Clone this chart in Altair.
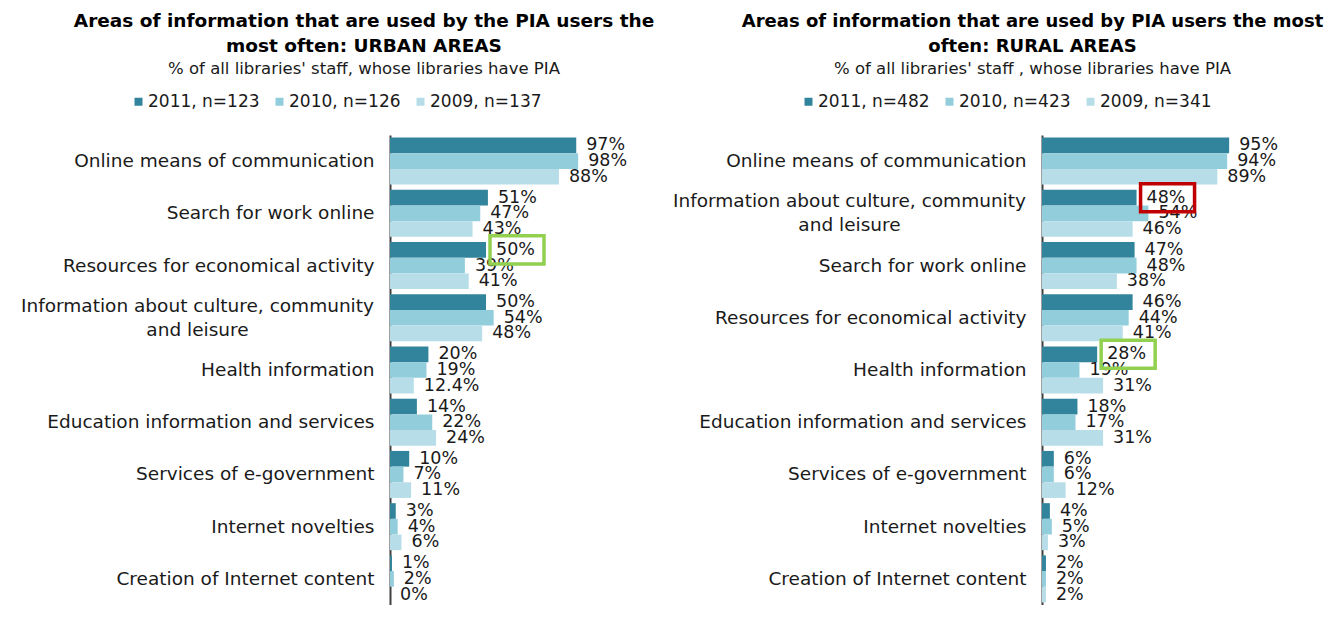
import altair as alt
import pandas as pd

# ---------------- data ----------------
categories_urban = [
    "Online means of communication",
    "Search for work online",
    "Resources for economical activity",
    "Information about culture, community\nand leisure",
    "Health information",
    "Education information and services",
    "Services of e-government",
    "Internet novelties",
    "Creation of Internet content",
]
urban_2011 = [97, 51, 50, 50, 20, 14, 10, 3, 1]
urban_2010 = [98, 47, 39, 54, 19, 22, 7, 4, 2]
urban_2009 = [88, 43, 41, 48, 12.4, 24, 11, 6, 0]
series_urban = ["2011, n=123", "2010, n=126", "2009, n=137"]

categories_rural = [
    "Online means of communication",
    "Information about culture, community\nand leisure",
    "Search for work online",
    "Resources for economical activity",
    "Health information",
    "Education information and services",
    "Services of e-government",
    "Internet novelties",
    "Creation of Internet content",
]
rural_2011 = [95, 48, 47, 46, 28, 18, 6, 4, 2]
rural_2010 = [94, 54, 48, 44, 19, 17, 6, 5, 2]
rural_2009 = [89, 46, 38, 41, 31, 31, 12, 3, 2]
series_rural = ["2011, n=482", "2010, n=423", "2009, n=341"]

# highlighted labels: (category, series index, kind)
highlights_urban = [("Resources for economical activity", 0, "green")]
highlights_rural = [
    ("Information about culture, community\nand leisure", 0, "red"),
    ("Health information", 0, "green"),
]

title_urban = ["Areas of information that are used by the PIA users the", "most often: URBAN AREAS"]
title_rural = ["Areas of information that are used by PIA users the most", "often: RURAL AREAS"]
subtitle_urban = "% of all libraries' staff, whose libraries have PIA"
subtitle_rural = "% of all libraries' staff , whose libraries have PIA"

BAR_COLORS = ["#31849B", "#92CDDC", "#B7DEE8"]
FONT = "DejaVu Sans"
MULTI = "indexof(datum.value, '\\n') >= 0"


def fmt(v):
    return f"{v:g}%"


def panel(categories, series_values, series, highlights, width, title, subtitle, title_dx, title_size, legend_x):
    rows = []
    for s_name, vals in zip(series, series_values):
        for c, v in zip(categories, vals):
            rows.append({"category": c, "series": s_name, "value": v, "label": fmt(v)})
    df = pd.DataFrame(rows)
    hl = pd.DataFrame(
        [{"category": c, "series": series[i], "value": series_values[i][categories.index(c)], "kind": k}
         for c, i, k in highlights]
    )

    y_enc = alt.Y(
        "category:N",
        sort=categories,
        scale=alt.Scale(paddingInner=0.1, paddingOuter=0.05),
        axis=alt.Axis(
            title=None,
            ticks=False,
            grid=False,
            domainColor="#404040",
            domainWidth=2,
            labelFont=FONT,
            labelFontSize=18.5,
            labelColor="#1a1a1a",
            labelLimit=1000,
            labelLineHeight=24,
            labelExpr="split(datum.label, '\\n')",
            labelAlign={"condition": {"test": MULTI, "value": "center"}, "value": "right"},
            labelPadding={"condition": {"test": MULTI, "value": 193}, "value": 16},
            labelOffset={"condition": {"test": MULTI, "value": -12}, "value": 0},
        ),
    )
    yoff = alt.YOffset("series:N", sort=series, scale=alt.Scale(paddingInner=0, paddingOuter=0))
    x_enc = alt.X("value:Q", scale=alt.Scale(domain=[0, 100]), axis=None)

    bars = alt.Chart(df).mark_bar().encode(
        x=x_enc,
        y=y_enc,
        yOffset=yoff,
        color=alt.Color(
            "series:N",
            sort=series,
            scale=alt.Scale(domain=series, range=BAR_COLORS),
            legend=alt.Legend(
                orient="none",
                legendX=legend_x,
                legendY=-42,
                direction="horizontal",
                title=None,
                symbolType="square",
                symbolSize=64,
                symbolStrokeWidth=0,
                labelFont=FONT,
                labelFontSize=17,
                labelColor="#1a1a1a",
                labelOffset=1,
                columnPadding=11,
                padding=0,
            ),
        ),
    )
    labels = alt.Chart(df).mark_text(
        align="left", baseline="middle", dx=10, font=FONT, fontSize=17.5, color="#1a1a1a"
    ).encode(x=x_enc, y=alt.Y("category:N", sort=categories), yOffset=yoff, text="label:N")

    boxes = alt.Chart(hl).mark_point(
        shape="M-1,-0.52H1V0.52H-1Z",
        filled=False,
        size=2916,
        strokeWidth=3.5,
        opacity=1,
        xOffset=31,
    ).encode(
        x=x_enc,
        y=alt.Y("category:N", sort=categories),
        yOffset=yoff,
        stroke=alt.Stroke("kind:N", scale=alt.Scale(domain=["green", "red"], range=["#92D050", "#C00000"]), legend=None),
    )

    return alt.layer(bars, labels, boxes).properties(
        width=width,
        height=470,
        title=alt.TitleParams(
            text=title,
            subtitle=subtitle,
            anchor="middle",
            frame="group",
            dx=title_dx,
            font=FONT,
            fontSize=title_size,
            fontWeight="bold",
            color="#000000",
            lineHeight=25,
            subtitleFont=FONT,
            subtitleFontSize=16.5,
            subtitleColor="#1a1a1a",
            subtitlePadding=5,
            offset=16,
        ),
    )


left = panel(categories_urban, [urban_2011, urban_2010, urban_2009], series_urban, highlights_urban,
             192, title_urban, subtitle_urban, -122, 18.5, -260)
right = panel(categories_rural, [rural_2011, rural_2010, rural_2009], series_rural, highlights_rural,
              197, title_rural, subtitle_rural, -108, 18, -242)

chart = (
    alt.hconcat(left, right, spacing=460, bounds="flush")
    .resolve_scale(color="independent", yOffset="independent", stroke="shared")
    .properties(padding={"left": 12, "top": 4, "right": 4, "bottom": 0}, background="white")
    .configure_view(stroke=None)
)

chart.save("out.html", embed_options={"renderer": "svg", "actions": False})
